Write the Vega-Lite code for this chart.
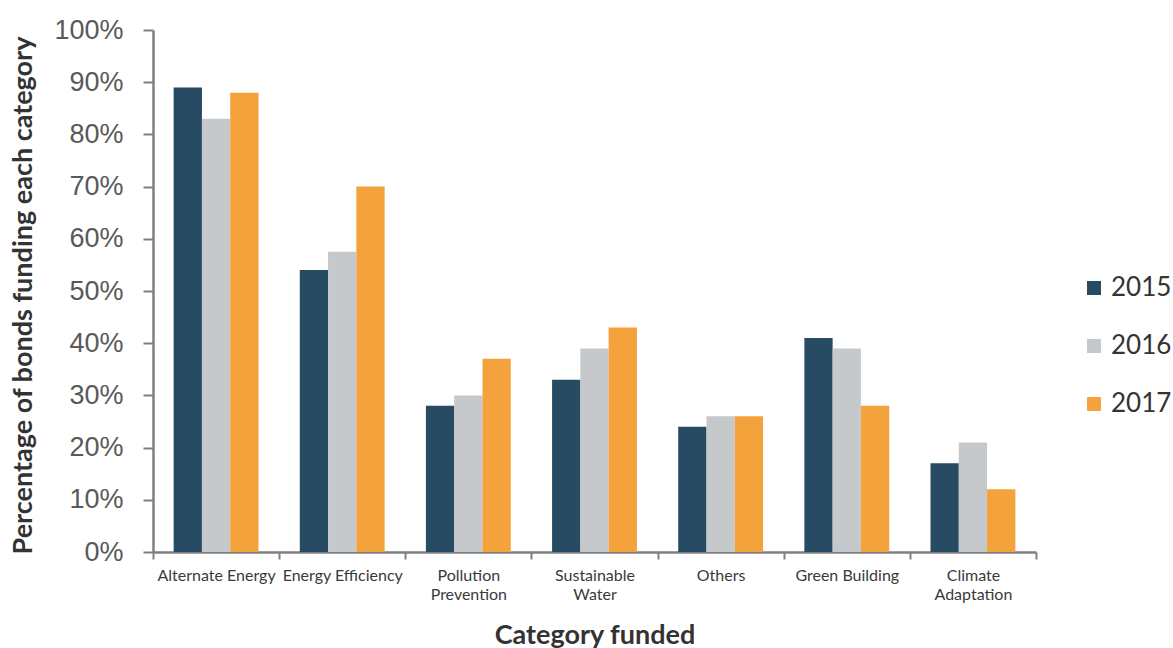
{
  "$schema": "https://vega.github.io/schema/vega-lite/v6.json",
  "width": 883,
  "height": 522,
  "autosize": {"type": "none"},
  "padding": {"left": 153, "top": 30, "right": 137, "bottom": 96},
  "background": "white",
  "config": {"view": {"stroke": null}},
  "data": {
    "values": [
      {"category": "Alternate Energy", "year": "2015", "pct": 89},
      {"category": "Alternate Energy", "year": "2016", "pct": 83},
      {"category": "Alternate Energy", "year": "2017", "pct": 88},
      {"category": "Energy Efficiency", "year": "2015", "pct": 54},
      {"category": "Energy Efficiency", "year": "2016", "pct": 57.5},
      {"category": "Energy Efficiency", "year": "2017", "pct": 70},
      {"category": "Pollution Prevention", "year": "2015", "pct": 28},
      {"category": "Pollution Prevention", "year": "2016", "pct": 30},
      {"category": "Pollution Prevention", "year": "2017", "pct": 37},
      {"category": "Sustainable Water", "year": "2015", "pct": 33},
      {"category": "Sustainable Water", "year": "2016", "pct": 39},
      {"category": "Sustainable Water", "year": "2017", "pct": 43},
      {"category": "Others", "year": "2015", "pct": 24},
      {"category": "Others", "year": "2016", "pct": 26},
      {"category": "Others", "year": "2017", "pct": 26},
      {"category": "Green Building", "year": "2015", "pct": 41},
      {"category": "Green Building", "year": "2016", "pct": 39},
      {"category": "Green Building", "year": "2017", "pct": 28},
      {"category": "Climate Adaptation", "year": "2015", "pct": 17},
      {"category": "Climate Adaptation", "year": "2016", "pct": 21},
      {"category": "Climate Adaptation", "year": "2017", "pct": 12}
    ]
  },
  "mark": {"type": "bar"},
  "encoding": {
    "x": {
      "field": "category",
      "type": "nominal",
      "sort": ["Alternate Energy", "Energy Efficiency", "Pollution Prevention", "Sustainable Water", "Others", "Green Building", "Climate Adaptation"],
      "scale": {"paddingInner": 0, "paddingOuter": 0},
      "title": "Category funded",
      "axis": {
        "labelAngle": 0,
        "tickBand": "extent",
        "labelExpr": "indexof(['Pollution Prevention', 'Sustainable Water', 'Climate Adaptation'], datum.label) >= 0 ? split(datum.label, ' ') : datum.label",
        "labelFont": "Lato",
        "labelFontSize": 16,
        "labelColor": "#3a3a3a",
        "labelLineHeight": 19,
        "labelPadding": 8,
        "tickSize": 7,
        "tickWidth": 2,
        "tickColor": "#7f7f7f",
        "domainColor": "#7f7f7f",
        "domainWidth": 2.5,
        "titleFont": "Lato",
        "titleFontSize": 27,
        "titleFontWeight": "bold",
        "titleColor": "#333333",
        "titleBaseline": "top",
        "titleY": 70
      }
    },
    "xOffset": {
      "field": "year",
      "type": "nominal",
      "scale": {"paddingInner": 0, "paddingOuter": 0.73}
    },
    "y": {
      "field": "pct",
      "type": "quantitative",
      "scale": {"domain": [0, 100]},
      "title": "Percentage of bonds funding each category",
      "axis": {
        "grid": false,
        "values": [0, 10, 20, 30, 40, 50, 60, 70, 80, 90, 100],
        "labelExpr": "datum.value + '%'",
        "labelFont": "Liberation Sans",
        "labelFontSize": 27,
        "labelColor": "#595959",
        "labelPadding": 20,
        "tickSize": 10,
        "tickWidth": 2,
        "tickColor": "#7f7f7f",
        "domainColor": "#7f7f7f",
        "domainWidth": 2.5,
        "titleFont": "Lato",
        "titleFontSize": 27,
        "titleFontWeight": "bold",
        "titleColor": "#333333",
        "titleAngle": -90,
        "titleAlign": "center",
        "titleBaseline": "middle",
        "titleX": -130,
        "titleY": 265
      }
    },
    "color": {
      "field": "year",
      "type": "nominal",
      "scale": {"domain": ["2015", "2016", "2017"], "range": ["#264b63", "#c5c9cc", "#f4a23b"]},
      "legend": {
        "title": null,
        "orient": "none",
        "legendX": 928,
        "legendY": 245,
        "symbolType": "square",
        "symbolSize": 196,
        "symbolStrokeWidth": 0,
        "labelFont": "Lato",
        "labelFontSize": 26,
        "labelColor": "#333333",
        "labelOffset": 4,
        "rowPadding": 32
      }
    }
  }
}
